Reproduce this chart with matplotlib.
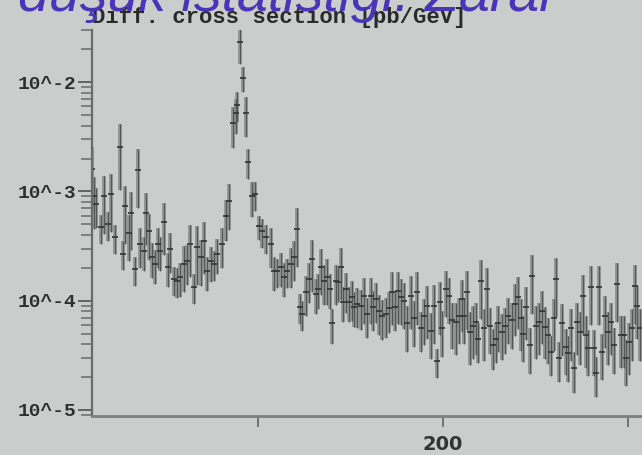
import matplotlib
matplotlib.use("Agg")
import matplotlib.pyplot as plt
from matplotlib.ticker import FixedLocator, FixedFormatter, LogLocator, NullFormatter
import numpy as np

# invariant mass [GeV] and diff. cross section [pb/GeV]
mass = [10.5, 11.6, 12.7, 14.9, 17.0, 19.2, 20.8, 23.0, 25.7, 26.8,
        28.4, 30.5, 31.6, 33.8, 35.4, 36.5, 38.6, 39.7, 41.4, 43.0,
        44.6, 46.2, 47.3, 49.5, 51.6, 52.7, 54.9, 56.5, 58.1, 60.3,
        61.9, 63.5, 65.7, 67.3, 69.5, 71.1, 72.7, 74.9, 76.5, 78.1,
        80.8, 83.0, 84.6, 86.8, 88.0, 89.0, 90.5, 92.2, 93.4, 94.9,
        97.0, 98.6, 100.8, 102.4, 104.6, 107.3, 108.9, 110.5, 112.7, 114.3,
        115.9, 118.1, 119.7, 121.4, 123.0, 124.1, 126.2, 127.8, 129.5, 131.6,
        132.7, 134.3, 135.9, 137.6, 139.2, 140.3, 142.4, 143.5, 145.1, 146.2,
        147.8, 149.5, 151.1, 152.2, 153.8, 155.9, 157.6, 159.2, 161.4, 162.4,
        164.1, 165.7, 167.3, 169.5, 171.1, 172.7, 174.3, 175.9, 177.6, 179.2,
        180.8, 183.0, 184.6, 186.2, 188.4, 190.0, 191.6, 193.8, 195.4, 197.0,
        198.6, 199.7, 201.9, 203.5, 205.1, 207.3, 208.9, 210.5, 211.6, 213.2,
        214.9, 216.5, 218.1, 219.2, 220.8, 222.4, 224.1, 225.7, 227.3, 228.9,
        230.0, 232.2, 233.8, 235.4, 237.6, 239.2, 240.8, 242.4, 243.5, 245.1,
        247.3, 248.4, 250.5, 252.2, 253.8, 255.4, 257.0, 258.6, 260.3, 261.4,
        263.0, 264.6, 266.8, 267.8, 269.5, 271.1, 272.7, 274.3, 275.9, 277.6,
        278.6, 280.3, 281.9, 283.0, 284.6, 286.2, 287.8, 289.5, 291.1, 292.7,
        294.3, 296.5, 298.1, 299.2, 300.6, 302.4, 304.1, 305.1, 306.8]

sigma = [1.6e-3, 9.0e-4, 7.7e-4, 4.7e-4, 9.0e-4, 5.0e-4, 9.4e-4, 3.8e-4, 2.57e-3, 2.7e-4,
         7.3e-4, 4.2e-4, 6.4e-4, 1.95e-4, 1.58e-3, 3.3e-4, 2.85e-4, 6.4e-4, 4.3e-4, 2.5e-4,
         2.17e-4, 3.3e-4, 2.85e-4, 5.2e-4, 2.04e-4, 3.0e-4, 1.58e-4, 1.52e-4, 1.65e-4, 2.17e-4,
         2.3e-4, 3.3e-4, 1.34e-4, 3.1e-4, 2.5e-4, 3.5e-4, 1.87e-4, 2.3e-4, 2.17e-4, 2.7e-4,
         3.3e-4, 5.9e-4, 8.1e-4, 4.2e-3, 5.2e-3, 6.2e-3, 2.31e-2, 1.09e-2, 5.2e-3, 1.87e-3,
         9.0e-4, 9.4e-4, 4.8e-4, 4.3e-4, 3.8e-4, 3.3e-4, 1.87e-4, 1.87e-4, 2.04e-4, 1.65e-4,
         1.87e-4, 2.17e-4, 2.5e-4, 4.5e-4, 8.8e-5, 7.6e-5, 1.21e-4, 1.58e-4, 2.4e-4, 1.16e-4,
         1.29e-4, 2.04e-4, 1.52e-4, 1.65e-4, 1.29e-4, 6.2e-5, 1.52e-4, 1.49e-4, 2.04e-4, 9.8e-5,
         1.29e-4, 9.8e-5, 1.09e-4, 8.8e-5, 9.4e-5, 9.0e-5, 1.11e-4, 7.6e-5, 1.11e-4, 8.8e-5,
         1.04e-4, 8.1e-5, 7.3e-5, 7.6e-5, 8.5e-5, 1.21e-4, 8.8e-5, 1.23e-4, 1.09e-4, 1.0e-4,
         6.2e-5, 1.11e-4, 6.9e-5, 1.21e-4, 5.6e-5, 7.2e-5, 9.0e-5, 5.3e-5, 9.0e-5, 2.8e-5,
         9.8e-5, 5.6e-5, 1.29e-4, 1.11e-4, 6.6e-5, 6.4e-5, 7.3e-5, 1.04e-4, 7.3e-5, 1.21e-4,
         5.2e-5, 5.9e-5, 6.4e-5, 4.5e-5, 1.52e-4, 5.6e-5, 1.29e-4, 5.9e-5, 3.9e-5, 4.5e-5,
         6.2e-5, 5.2e-5, 5.9e-5, 7.3e-5, 6.6e-5, 9.4e-5, 1.09e-4, 6.9e-5, 5.0e-5, 8.8e-5,
         3.9e-5, 1.69e-4, 5.9e-5, 6.4e-5, 8.1e-5, 5.8e-5, 4.8e-5, 3.4e-5, 6.9e-5, 1.58e-4,
         3.0e-5, 6.2e-5, 3.8e-5, 3.3e-5, 5.6e-5, 2.4e-5, 6.4e-5, 5.2e-5, 1.11e-4, 4.8e-5,
         3.7e-5, 1.34e-4, 3.7e-5, 2.2e-5, 1.34e-4, 3.4e-5, 7.3e-5, 5.2e-5, 6.4e-5, 3.9e-5,
         1.43e-4, 4.8e-5, 4.8e-5, 3.0e-5, 4.2e-5, 5.6e-5, 1.37e-4, 9.0e-5, 5.6e-5]

# relative error of every point
rel_err = [0.6, 0.5, 0.4, 0.3, 0.55, 0.3, 0.55, 0.3, 0.6, 0.3,
           0.55, 0.45, 0.55, 0.3, 0.55, 0.4, 0.35, 0.5, 0.45, 0.35,
           0.35, 0.4, 0.35, 0.5, 0.35, 0.4, 0.3, 0.3, 0.35, 0.45,
           0.4, 0.5, 0.3, 0.55, 0.45, 0.5, 0.35, 0.35, 0.3, 0.35,
           0.4, 0.4, 0.45, 0.4, 0.35, 0.3, 0.37, 0.25, 0.4, 0.3,
           0.35, 0.3, 0.25, 0.3, 0.3, 0.4, 0.35, 0.3, 0.35, 0.35,
           0.3, 0.4, 0.4, 0.55, 0.3, 0.3, 0.4, 0.4, 0.5, 0.35,
           0.35, 0.45, 0.4, 0.45, 0.35, 0.35, 0.4, 0.35, 0.5, 0.35,
           0.4, 0.35, 0.4, 0.35, 0.4, 0.4, 0.45, 0.4, 0.45, 0.4,
           0.4, 0.4, 0.4, 0.4, 0.4, 0.5, 0.4, 0.5, 0.45, 0.45,
           0.45, 0.5, 0.45, 0.5, 0.4, 0.45, 0.5, 0.45, 0.55, 0.3,
           0.5, 0.45, 0.45, 0.45, 0.45, 0.5, 0.45, 0.5, 0.45, 0.55,
           0.5, 0.5, 0.5, 0.4, 0.55, 0.5, 0.55, 0.45, 0.4, 0.4,
           0.45, 0.45, 0.45, 0.45, 0.45, 0.5, 0.5, 0.5, 0.45, 0.5,
           0.45, 0.55, 0.5, 0.5, 0.5, 0.5, 0.45, 0.4, 0.5, 0.55,
           0.4, 0.5, 0.45, 0.45, 0.5, 0.4, 0.5, 0.5, 0.55, 0.5,
           0.45, 0.55, 0.45, 0.4, 0.55, 0.45, 0.5, 0.5, 0.5, 0.45,
           0.55, 0.5, 0.5, 0.45, 0.5, 0.5, 0.55, 0.5, 0.5]

decades = [1e-5, 1e-4, 1e-3, 1e-2]
decade_labels = ["10^-5", "10^-4", "10^-3", "10^-2"]
x_ticks = [100, 200, 300]
x_tick_labels = ["", "200", ""]

bg = "#cbcdcc"
x = np.array(mass)
y = np.array(sigma)
yerr = np.array(rel_err) * y

fig = plt.figure(figsize=(6.42, 4.55), dpi=100, facecolor=bg)
ax = fig.add_axes([92 / 642, 39 / 455, 1 - 92 / 642, 386 / 455])
ax.set_facecolor(bg)

# broad grey error band + thin dark core + small centre dash
ax.errorbar(x, y, yerr=yerr, fmt="none", ecolor="#8c8e8d", elinewidth=2.8, alpha=0.9)
ax.errorbar(x, y, yerr=yerr, fmt="none", ecolor="#555757", elinewidth=0.8)
ax.plot(x, y, ls="none", marker="_", ms=4, mew=1.2, color="#333333")

ax.set_yscale("log")
ax.set_xlim(10.3, 307.8)
ax.set_ylim(8.8e-6, 3.0e-2)

for s in ["top", "right"]:
    ax.spines[s].set_visible(False)
ax.spines["left"].set_color("#6a6c6b")
ax.spines["left"].set_linewidth(1.6)
ax.spines["bottom"].set_color("#7e807f")
ax.spines["bottom"].set_linewidth(2.0)

ax.yaxis.set_major_locator(FixedLocator(decades))
ax.yaxis.set_major_formatter(FixedFormatter(decade_labels))
ax.yaxis.set_minor_locator(LogLocator(base=10, subs=np.arange(2, 10)))
ax.yaxis.set_minor_formatter(NullFormatter())
ax.tick_params(axis="y", which="major", direction="out", length=10, width=1.3,
               color="#5a5c5b", pad=1, labelsize=14, labelcolor="#2e2e2e")
ax.tick_params(axis="y", which="minor", direction="out", length=8, width=1.1, color="#6a6c6b")
for lab in ax.get_yticklabels():
    lab.set_family("Liberation Mono")
    lab.set_fontweight("bold")

ax.xaxis.set_major_locator(FixedLocator(x_ticks))
ax.xaxis.set_major_formatter(FixedFormatter(x_tick_labels))
ax.tick_params(axis="x", which="major", direction="out", length=8, width=1.3,
               color="#6a6c6b", pad=6, labelsize=14, labelcolor="#333333")
for lab in ax.get_xticklabels():
    lab.set_fontweight("bold")

fig.text(92 / 642, 1 - 18 / 455, "Diff. cross section [pb/GeV]", family="Liberation Mono",
         fontweight="bold", fontsize=16, color="#2a2a2a", va="center", ha="left")
fig.text(18 / 642, 1 - 11 / 455, "düşük istatistiği: Zarar", family="Liberation Sans",
         style="italic", fontsize=40, color="#4b34b8", va="baseline", ha="left")

fig.savefig("out.png", dpi=100, facecolor=bg)
